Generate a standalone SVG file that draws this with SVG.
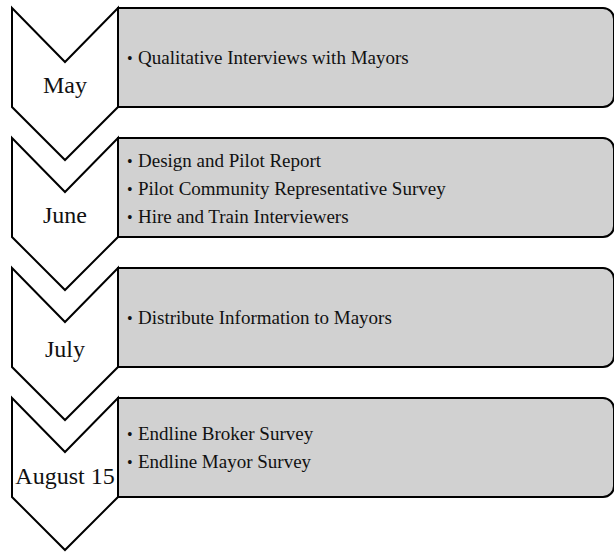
<svg xmlns="http://www.w3.org/2000/svg" width="614" height="552" viewBox="0 0 614 552">
  <defs>
    <style>
      .box { fill: #d1d1d1; stroke: #000; stroke-width: 2; }
      .chev { fill: #fff; stroke: #000; stroke-width: 2; stroke-linejoin: miter; }
      .month { font-family: "Liberation Serif", "DejaVu Serif", serif; font-size: 24px; fill: #111; text-anchor: middle; }
      .item { font-family: "Liberation Serif", "DejaVu Serif", serif; font-size: 19px; fill: #111; }
      .dot { font-family: "Liberation Serif", "DejaVu Serif", serif; font-size: 16px; fill: #111; }
    </style>
    <!-- detail panel: square left edge, rounded right corners -->
    <path id="panel" d="M118,8 H603 A11,11 0 0 1 614,19 V96 A11,11 0 0 1 603,107 H118 Z"/>
    <!-- downward chevron -->
    <polygon id="chevron" points="12,8 65,62 118,8 118,107 65,160 12,107"/>
  </defs>

  <g id="connectors"/>

  <!-- May -->
  <g id="step-may" transform="translate(0,0)">
    <use href="#panel" class="box"/>
    <use href="#chevron" class="chev"/>
    <text class="month" x="65" y="93">May</text>
    <text class="dot" x="127" y="64">•</text>
    <text class="item" x="138" y="64">Qualitative Interviews with Mayors</text>
  </g>

  <!-- June -->
  <g id="step-june" transform="translate(0,130)">
    <use href="#panel" class="box"/>
    <use href="#chevron" class="chev"/>
    <text class="month" x="65" y="93">June</text>
    <text class="dot" x="127" y="37">•</text>
    <text class="item" x="138" y="37">Design and Pilot Report</text>
    <text class="dot" x="127" y="65">•</text>
    <text class="item" x="138" y="65">Pilot Community Representative Survey</text>
    <text class="dot" x="127" y="93">•</text>
    <text class="item" x="138" y="93">Hire and Train Interviewers</text>
  </g>

  <!-- July -->
  <g id="step-july" transform="translate(0,260)">
    <use href="#panel" class="box"/>
    <use href="#chevron" class="chev"/>
    <text class="month" x="65" y="97">July</text>
    <text class="dot" x="127" y="64">•</text>
    <text class="item" x="138" y="64">Distribute Information to Mayors</text>
  </g>

  <!-- August 15 -->
  <g id="step-august" transform="translate(0,390)">
    <use href="#panel" class="box"/>
    <use href="#chevron" class="chev"/>
    <text class="month" x="65" y="94">August 15</text>
    <text class="dot" x="127" y="50">•</text>
    <text class="item" x="138" y="50">Endline Broker Survey</text>
    <text class="dot" x="127" y="78">•</text>
    <text class="item" x="138" y="78">Endline Mayor Survey</text>
  </g>
</svg>
